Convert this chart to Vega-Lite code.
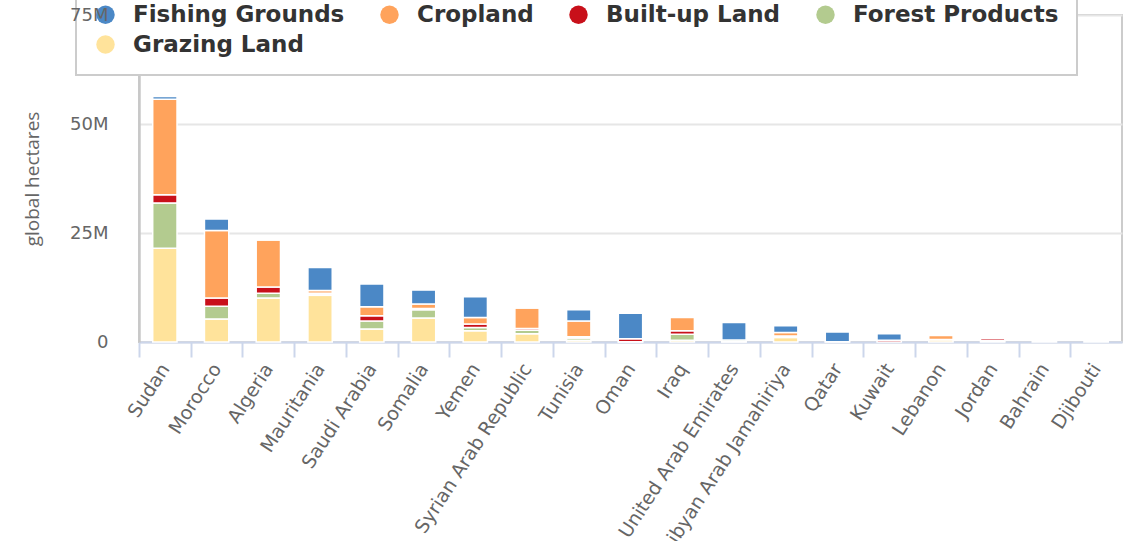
{
  "$schema": "https://vega.github.io/schema/vega-lite/v6.json",
  "width": 983,
  "height": 327,
  "autosize": {"type": "none"},
  "padding": {"left": 139, "top": 15, "right": 10, "bottom": 199},
  "background": "white",
  "datasets": {
    "fp": [
      {"country": "Sudan", "type": "Grazing Land", "gha": 21500000},
      {"country": "Sudan", "type": "Forest Products", "gha": 10400000},
      {"country": "Sudan", "type": "Built-up Land", "gha": 1900000},
      {"country": "Sudan", "type": "Cropland", "gha": 21900000},
      {"country": "Sudan", "type": "Fishing Grounds", "gha": 600000},
      {"country": "Morocco", "type": "Grazing Land", "gha": 5300000},
      {"country": "Morocco", "type": "Forest Products", "gha": 2900000},
      {"country": "Morocco", "type": "Built-up Land", "gha": 1900000},
      {"country": "Morocco", "type": "Cropland", "gha": 15500000},
      {"country": "Morocco", "type": "Fishing Grounds", "gha": 2600000},
      {"country": "Algeria", "type": "Grazing Land", "gha": 10100000},
      {"country": "Algeria", "type": "Forest Products", "gha": 1100000},
      {"country": "Algeria", "type": "Built-up Land", "gha": 1400000},
      {"country": "Algeria", "type": "Cropland", "gha": 10800000},
      {"country": "Algeria", "type": "Fishing Grounds", "gha": 100000},
      {"country": "Mauritania", "type": "Grazing Land", "gha": 10700000},
      {"country": "Mauritania", "type": "Forest Products", "gha": 300000},
      {"country": "Mauritania", "type": "Built-up Land", "gha": 200000},
      {"country": "Mauritania", "type": "Cropland", "gha": 600000},
      {"country": "Mauritania", "type": "Fishing Grounds", "gha": 5300000},
      {"country": "Saudi Arabia", "type": "Grazing Land", "gha": 3000000},
      {"country": "Saudi Arabia", "type": "Forest Products", "gha": 1800000},
      {"country": "Saudi Arabia", "type": "Built-up Land", "gha": 1200000},
      {"country": "Saudi Arabia", "type": "Cropland", "gha": 2100000},
      {"country": "Saudi Arabia", "type": "Fishing Grounds", "gha": 5200000},
      {"country": "Somalia", "type": "Grazing Land", "gha": 5500000},
      {"country": "Somalia", "type": "Forest Products", "gha": 1900000},
      {"country": "Somalia", "type": "Built-up Land", "gha": 300000},
      {"country": "Somalia", "type": "Cropland", "gha": 1000000},
      {"country": "Somalia", "type": "Fishing Grounds", "gha": 3200000},
      {"country": "Yemen", "type": "Grazing Land", "gha": 2600000},
      {"country": "Yemen", "type": "Forest Products", "gha": 700000},
      {"country": "Yemen", "type": "Built-up Land", "gha": 800000},
      {"country": "Yemen", "type": "Cropland", "gha": 1500000},
      {"country": "Yemen", "type": "Fishing Grounds", "gha": 4800000},
      {"country": "Syrian Arab Republic", "type": "Grazing Land", "gha": 1900000},
      {"country": "Syrian Arab Republic", "type": "Forest Products", "gha": 800000},
      {"country": "Syrian Arab Republic", "type": "Built-up Land", "gha": 400000},
      {"country": "Syrian Arab Republic", "type": "Cropland", "gha": 4700000},
      {"country": "Syrian Arab Republic", "type": "Fishing Grounds", "gha": 50000},
      {"country": "Tunisia", "type": "Grazing Land", "gha": 400000},
      {"country": "Tunisia", "type": "Forest Products", "gha": 500000},
      {"country": "Tunisia", "type": "Built-up Land", "gha": 300000},
      {"country": "Tunisia", "type": "Cropland", "gha": 3600000},
      {"country": "Tunisia", "type": "Fishing Grounds", "gha": 2600000},
      {"country": "Oman", "type": "Grazing Land", "gha": 50000},
      {"country": "Oman", "type": "Built-up Land", "gha": 700000},
      {"country": "Oman", "type": "Fishing Grounds", "gha": 5850000},
      {"country": "Iraq", "type": "Grazing Land", "gha": 400000},
      {"country": "Iraq", "type": "Forest Products", "gha": 1400000},
      {"country": "Iraq", "type": "Built-up Land", "gha": 800000},
      {"country": "Iraq", "type": "Cropland", "gha": 3000000},
      {"country": "United Arab Emirates", "type": "Grazing Land", "gha": 50000},
      {"country": "United Arab Emirates", "type": "Forest Products", "gha": 400000},
      {"country": "United Arab Emirates", "type": "Fishing Grounds", "gha": 4050000},
      {"country": "Libyan Arab Jamahiriya", "type": "Grazing Land", "gha": 1050000},
      {"country": "Libyan Arab Jamahiriya", "type": "Forest Products", "gha": 200000},
      {"country": "Libyan Arab Jamahiriya", "type": "Built-up Land", "gha": 150000},
      {"country": "Libyan Arab Jamahiriya", "type": "Cropland", "gha": 800000},
      {"country": "Libyan Arab Jamahiriya", "type": "Fishing Grounds", "gha": 1500000},
      {"country": "Qatar", "type": "Built-up Land", "gha": 50000},
      {"country": "Qatar", "type": "Fishing Grounds", "gha": 2250000},
      {"country": "Kuwait", "type": "Built-up Land", "gha": 400000},
      {"country": "Kuwait", "type": "Fishing Grounds", "gha": 1500000},
      {"country": "Lebanon", "type": "Grazing Land", "gha": 500000},
      {"country": "Lebanon", "type": "Forest Products", "gha": 100000},
      {"country": "Lebanon", "type": "Cropland", "gha": 900000},
      {"country": "Jordan", "type": "Grazing Land", "gha": 300000},
      {"country": "Jordan", "type": "Built-up Land", "gha": 450000},
      {"country": "Bahrain", "type": "Fishing Grounds", "gha": 350000},
      {"country": "Djibouti", "type": "Grazing Land", "gha": 200000}
    ],
    "series": [
      {"type": "Grazing Land", "rank": 1},
      {"type": "Forest Products", "rank": 2},
      {"type": "Built-up Land", "rank": 3},
      {"type": "Cropland", "rank": 4},
      {"type": "Fishing Grounds", "rank": 5}
    ]
  },
  "data": {"name": "fp"},
  "transform": [
    {"lookup": "type", "from": {"data": {"name": "series"}, "key": "type", "fields": ["rank"]}}
  ],
  "encoding": {
    "x": {
      "field": "country",
      "type": "nominal",
      "sort": ["Sudan", "Morocco", "Algeria", "Mauritania", "Saudi Arabia", "Somalia", "Yemen", "Syrian Arab Republic", "Tunisia", "Oman", "Iraq", "United Arab Emirates", "Libyan Arab Jamahiriya", "Qatar", "Kuwait", "Lebanon", "Jordan", "Bahrain", "Djibouti"],
      "scale": {"paddingInner": 0.53, "paddingOuter": 0.265},
      "axis": {
        "title": null,
        "orient": "bottom",
        "labelAngle": -57,
        "labelFont": "DejaVu Sans",
        "labelFontSize": 19,
        "labelColor": "#666666",
        "labelPadding": 8,
        "labelLimit": 400,
        "tickOffset": -25.87,
        "labelOffset": 25.87,
        "tickSize": 15,
        "tickColor": "#ccd6eb",
        "tickWidth": 2,
        "domainColor": "#ccd6eb",
        "domainWidth": 2,
        "grid": false
      }
    }
  },
  "layer": [
    {
      "mark": {"type": "bar", "stroke": "white", "strokeWidth": 1.5},
      "encoding": {
        "y": {
          "field": "gha",
          "type": "quantitative",
          "stack": "zero",
          "scale": {"domain": [0, 75000000], "nice": false},
          "axis": {
            "orient": "left",
            "title": null,
            "labels": false,
            "ticks": false,
            "domain": true,
            "domainColor": "#c8c8c8",
            "domainWidth": 2.5,
            "grid": true,
            "gridColor": "#e6e6e6",
            "gridWidth": 2,
            "values": [0, 25000000, 50000000, 75000000],
            "zindex": 0
          }
        },
        "order": {"field": "rank", "type": "quantitative"},
        "color": {
          "field": "type",
          "type": "nominal",
          "scale": {
            "domain": ["Fishing Grounds", "Cropland", "Built-up Land", "Forest Products", "Grazing Land"],
            "range": ["#4b88c6", "#ffa35c", "#c8101a", "#b3cb8f", "#ffe39b"]
          },
          "legend": {
            "title": null,
            "orient": "none",
            "legendX": -63,
            "legendY": -30,
            "direction": "horizontal",
            "columns": 4,
            "columnPadding": 33,
            "rowPadding": 6,
            "padding": 18,
            "fillColor": "white",
            "strokeColor": "#cccccc",
            "symbolType": "circle",
            "symbolSize": 340,
            "symbolStrokeWidth": 0,
            "symbolOpacity": 1,
            "labelFont": "DejaVu Sans",
            "labelFontSize": 23,
            "labelFontWeight": "bold",
            "labelColor": "#333333",
            "labelOffset": 16,
            "labelLimit": 400
          }
        }
      }
    },
    {
      "mark": {"type": "bar", "opacity": 0},
      "encoding": {
        "y": {
          "field": "gha",
          "type": "quantitative",
          "stack": "zero",
          "scale": {"domain": [0, 75000000], "nice": false},
          "axis": {
            "orient": "left",
            "title": "global hectares",
            "titleFont": "Open Sans",
            "titleFontSize": 19,
            "titleFontWeight": "normal",
            "titleColor": "#666666",
            "titlePadding": 27,
            "labels": true,
            "labelFont": "DejaVu Sans",
            "labelFontSize": 18,
            "labelColor": "#666666",
            "labelPadding": 31,
            "labelExpr": "datum.value == 0 ? '0' : format(datum.value, '~s')",
            "ticks": false,
            "domain": false,
            "grid": false,
            "values": [0, 25000000, 50000000, 75000000],
            "zindex": 1
          }
        }
      }
    }
  ],
  "resolve": {"axis": {"y": "independent"}},
  "config": {
    "view": {"stroke": "#cccccc", "strokeWidth": 2},
    "legend": {"strokeWidth": 2}
  }
}
